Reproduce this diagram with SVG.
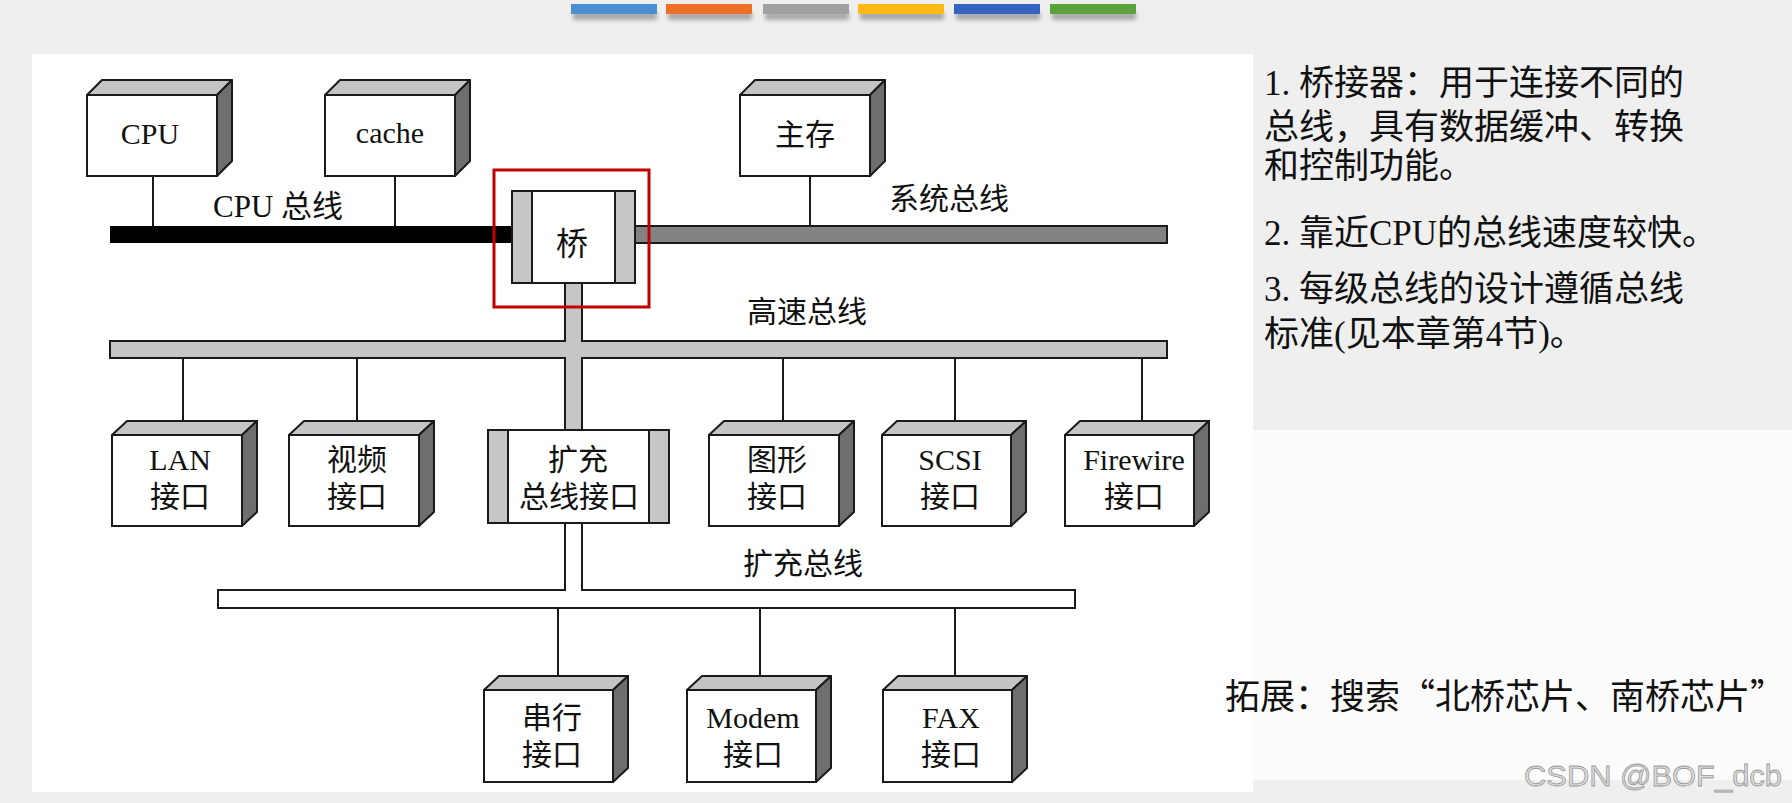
<svg xmlns="http://www.w3.org/2000/svg" width="1792" height="803" viewBox="0 0 1792 803">
<defs>
<style>
.front{fill:#fff;stroke:#1a1a1a;stroke-width:2}
.top{fill:#c4c4c4;stroke:#1a1a1a;stroke-width:2;stroke-linejoin:round}
.side{fill:#6e6e6e;stroke:#1a1a1a;stroke-width:2;stroke-linejoin:round}
.sbar{fill:#c6c6c6;stroke:#1a1a1a;stroke-width:2}
.lbl{font-family:'Liberation Serif','Noto Sans CJK SC',serif;font-size:30px;fill:#111;text-anchor:middle}
.bus{font-family:'Liberation Serif','Noto Sans CJK SC',serif;font-size:30px;fill:#111}
.wire{stroke:#1a1a1a;stroke-width:2;fill:none}
.note{font-family:'Liberation Serif','Noto Sans CJK SC',serif;font-size:35px;fill:#111}
</style>
<filter id="blur" x="-10%" y="-100%" width="120%" height="300%"><feGaussianBlur stdDeviation="2"/></filter>
</defs>
<rect width="1792" height="803" fill="#efefef"/>
<g id="colorbars">
<rect x="573" y="12" width="84" height="8" fill="#888" filter="url(#blur)" opacity="0.7"/>
<rect x="668" y="12" width="84" height="8" fill="#888" filter="url(#blur)" opacity="0.7"/>
<rect x="765" y="12" width="84" height="8" fill="#888" filter="url(#blur)" opacity="0.7"/>
<rect x="860" y="12" width="84" height="8" fill="#888" filter="url(#blur)" opacity="0.7"/>
<rect x="956" y="12" width="84" height="8" fill="#888" filter="url(#blur)" opacity="0.7"/>
<rect x="1052" y="12" width="84" height="8" fill="#888" filter="url(#blur)" opacity="0.7"/>
<rect x="571" y="4" width="86" height="10" fill="#4a8fd4"/>
<rect x="666" y="4" width="86" height="10" fill="#f07028"/>
<rect x="763" y="4" width="86" height="10" fill="#a0a0a0"/>
<rect x="858" y="4" width="86" height="10" fill="#fdb813"/>
<rect x="954" y="4" width="86" height="10" fill="#3563c2"/>
<rect x="1050" y="4" width="86" height="10" fill="#5aa23c"/>
</g>
<rect x="32" y="54" width="1221" height="738" fill="#fff"/>
<rect x="1253" y="430" width="539" height="350" fill="#fbfbfb"/>

<g id="connectors">
<line class="wire" x1="153" y1="176" x2="153" y2="226"/>
<line class="wire" x1="395" y1="176" x2="395" y2="226"/>
<line class="wire" x1="810" y1="176" x2="810" y2="226"/>
<line class="wire" x1="183" y1="358" x2="183" y2="421"/>
<line class="wire" x1="357" y1="358" x2="357" y2="421"/>
<line class="wire" x1="783" y1="358" x2="783" y2="421"/>
<line class="wire" x1="955" y1="358" x2="955" y2="421"/>
<line class="wire" x1="1142" y1="358" x2="1142" y2="421"/>
<line class="wire" x1="558" y1="608" x2="558" y2="676"/>
<line class="wire" x1="760" y1="608" x2="760" y2="676"/>
<line class="wire" x1="955" y1="608" x2="955" y2="676"/>
</g>

<g id="cpu-bus">
<rect x="110" y="226" width="404" height="17" fill="#000"/>
<text class="bus" x="213" y="217" style="font-size:31px">CPU 总线</text>
</g>
<g id="system-bus">
<rect x="635" y="226" width="532" height="17" fill="#828282" stroke="#1a1a1a" stroke-width="2"/>
<text class="bus" x="889" y="209">系统总线</text>
</g>
<g id="high-speed-bus">
<rect x="110" y="341" width="1057" height="17" fill="#c6c6c6" stroke="#1a1a1a" stroke-width="2"/>
<rect x="566" y="283" width="15" height="147" fill="#c6c6c6"/>
<line class="wire" x1="565" y1="283" x2="565" y2="342"/>
<line class="wire" x1="582" y1="283" x2="582" y2="342"/>
<line class="wire" x1="565" y1="357" x2="565" y2="430"/>
<line class="wire" x1="582" y1="357" x2="582" y2="430"/>
<text class="bus" x="747" y="322">高速总线</text>
</g>
<g id="expansion-bus">
<rect x="218" y="590" width="857" height="18" fill="#fff" stroke="#1a1a1a" stroke-width="2"/>
<rect x="566" y="586" width="15" height="6" fill="#fff"/>
<line class="wire" x1="565" y1="523" x2="565" y2="591"/>
<line class="wire" x1="582" y1="523" x2="582" y2="591"/>
<text class="bus" x="743" y="574">扩充总线</text>
</g>

<g id="cpu">
<polygon class="top" points="87,95 102,80 232,80 217,95"/>
<polygon class="side" points="217,95 232,80 232,161 217,176"/>
<rect class="front" x="87" y="95" width="130" height="81"/>
<text class="lbl" x="150" y="144">CPU</text>
</g>
<g id="cache">
<polygon class="top" points="325,95 340,80 470,80 455,95"/>
<polygon class="side" points="455,95 470,80 470,161 455,176"/>
<rect class="front" x="325" y="95" width="130" height="81"/>
<text class="lbl" x="390" y="143">cache</text>
</g>
<g id="main-memory">
<polygon class="top" points="740,95 755,80 885,80 870,95"/>
<polygon class="side" points="870,95 885,80 885,161 870,176"/>
<rect class="front" x="740" y="95" width="130" height="81"/>
<text class="lbl" x="805" y="145">主存</text>
</g>

<g id="bridge">
<rect class="front" x="512" y="191" width="123" height="92"/>
<rect class="sbar" x="512" y="191" width="20" height="92"/>
<rect class="sbar" x="615" y="191" width="20" height="92"/>
<text class="lbl" x="572" y="255" style="font-size:32px">桥</text>
<rect x="494" y="170" width="155" height="137" fill="none" stroke="#c00000" stroke-width="3"/>
</g>

<g id="lan">
<polygon class="top" points="112,435 127,421 257,421 242,435"/>
<polygon class="side" points="242,435 257,421 257,512 242,526"/>
<rect class="front" x="112" y="435" width="130" height="91"/>
<text class="lbl" x="180" y="470">LAN</text>
<text class="lbl" x="180" y="507">接口</text>
</g>
<g id="video">
<polygon class="top" points="289,435 304,421 434,421 419,435"/>
<polygon class="side" points="419,435 434,421 434,512 419,526"/>
<rect class="front" x="289" y="435" width="130" height="91"/>
<text class="lbl" x="357" y="470">视频</text>
<text class="lbl" x="357" y="507">接口</text>
</g>
<g id="expansion-interface">
<rect class="front" x="488" y="430" width="181" height="93"/>
<rect class="sbar" x="488" y="430" width="20" height="93"/>
<rect class="sbar" x="649" y="430" width="20" height="93"/>
<text class="lbl" x="578" y="470">扩充</text>
<text class="lbl" x="579" y="507">总线接口</text>
</g>
<g id="graphics">
<polygon class="top" points="709,435 724,421 854,421 839,435"/>
<polygon class="side" points="839,435 854,421 854,512 839,526"/>
<rect class="front" x="709" y="435" width="130" height="91"/>
<text class="lbl" x="777" y="470">图形</text>
<text class="lbl" x="777" y="507">接口</text>
</g>
<g id="scsi">
<polygon class="top" points="882,435 897,421 1026,421 1011,435"/>
<polygon class="side" points="1011,435 1026,421 1026,512 1011,526"/>
<rect class="front" x="882" y="435" width="129" height="91"/>
<text class="lbl" x="950" y="470">SCSI</text>
<text class="lbl" x="950" y="507">接口</text>
</g>
<g id="firewire">
<polygon class="top" points="1065,435 1080,421 1209,421 1194,435"/>
<polygon class="side" points="1194,435 1209,421 1209,512 1194,526"/>
<rect class="front" x="1065" y="435" width="129" height="91"/>
<text class="lbl" x="1134" y="470">Firewire</text>
<text class="lbl" x="1134" y="507">接口</text>
</g>

<g id="serial">
<polygon class="top" points="484,690 499,676 628,676 613,690"/>
<polygon class="side" points="613,690 628,676 628,768 613,782"/>
<rect class="front" x="484" y="690" width="129" height="92"/>
<text class="lbl" x="552" y="728">串行</text>
<text class="lbl" x="552" y="765">接口</text>
</g>
<g id="modem">
<polygon class="top" points="687,690 702,676 831,676 816,690"/>
<polygon class="side" points="816,690 831,676 831,768 816,782"/>
<rect class="front" x="687" y="690" width="129" height="92"/>
<text class="lbl" x="753" y="728">Modem</text>
<text class="lbl" x="753" y="765">接口</text>
</g>
<g id="fax">
<polygon class="top" points="883,690 898,676 1027,676 1012,690"/>
<polygon class="side" points="1012,690 1027,676 1027,768 1012,782"/>
<rect class="front" x="883" y="690" width="129" height="92"/>
<text class="lbl" x="951" y="728">FAX</text>
<text class="lbl" x="951" y="765">接口</text>
</g>

<g id="notes">
<text class="note" x="1264" y="95">1. 桥接器：用于连接不同的</text>
<text class="note" x="1264" y="139">总线，具有数据缓冲、转换</text>
<text class="note" x="1264" y="178">和控制功能。</text>
<text class="note" x="1264" y="245">2. 靠近CPU的总线速度较快。</text>
<text class="note" x="1264" y="301">3. 每级总线的设计遵循总线</text>
<text class="note" x="1264" y="346">标准(见本章第4节)。</text>
<text class="note" x="1225" y="709" style="font-family:'Noto Sans CJK SC',sans-serif">拓展：搜索“北桥芯片、南桥芯片”</text>
</g>
<text x="1524" y="786" font-family="'Liberation Sans',Arial,sans-serif" font-size="30" textLength="258" lengthAdjust="spacingAndGlyphs" fill="#dcdcdc" stroke="#9a9a9a" stroke-width="0.8">CSDN @BOF_dcb</text>
</svg>
